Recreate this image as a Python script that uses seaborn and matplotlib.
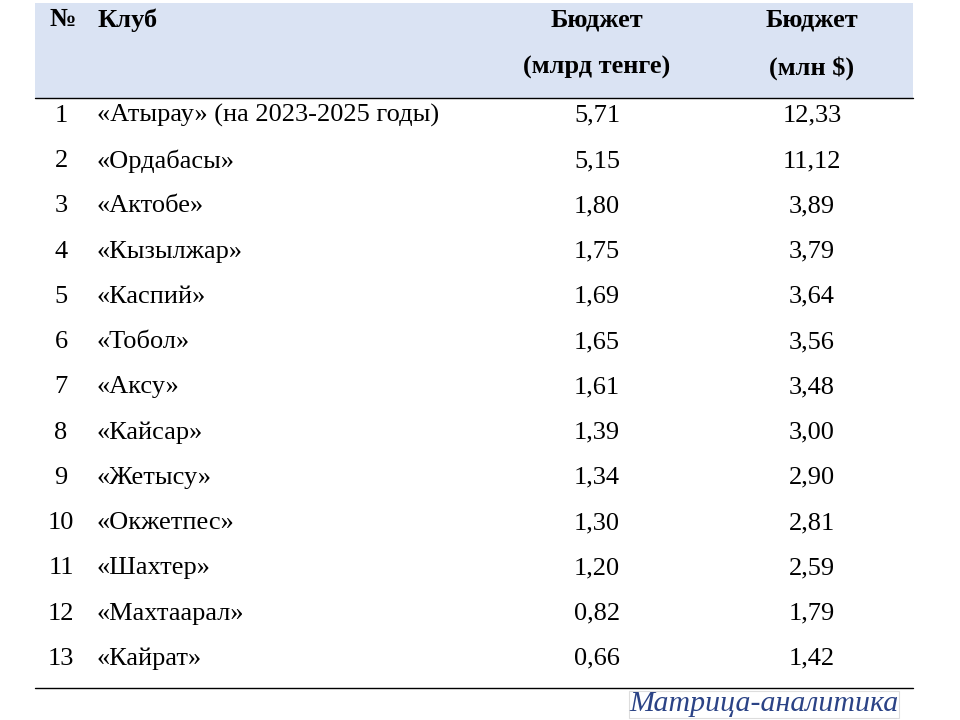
import matplotlib
matplotlib.use('Agg')
import matplotlib.pyplot as plt
import seaborn as sns
import pandas as pd

# Budgets of Kazakhstan Premier League clubs
ranks = list(range(1, 14))
clubs = ['«Атырау» (на 2023-2025 годы)', '«Ордабасы»', '«Актобе»', '«Кызылжар»',
         '«Каспий»', '«Тобол»', '«Аксу»', '«Кайсар»', '«Жетысу»', '«Окжетпес»',
         '«Шахтер»', '«Махтаарал»', '«Кайрат»']
budget_kzt = ['5,71', '5,15', '1,80', '1,75', '1,69', '1,65', '1,61', '1,39',
              '1,34', '1,30', '1,20', '0,82', '0,66']
budget_usd = ['12,33', '11,12', '3,89', '3,79', '3,64', '3,56', '3,48', '3,00',
              '2,90', '2,81', '2,59', '1,79', '1,42']
headers = ['№', 'Клуб', 'Бюджет', '(млрд тенге)', 'Бюджет', '(млн $)']
source = 'Матрица-аналитика'

df = pd.DataFrame({'rank': ranks, 'club': clubs, 'kzt': budget_kzt, 'usd': budget_usd})

sns.set_theme(style='white')
plt.rcParams['font.family'] = ['Liberation Serif', 'DejaVu Serif']
plt.rcParams['text.color'] = 'black'

fig = plt.figure(figsize=(9.6, 7.2), dpi=100)
ax = fig.add_axes([0, 0, 1, 1])
ax.set_xlim(0, 960)
ax.set_ylim(14.37, -1.54)
ax.axis('off')

fs = 19
# header band
ax.fill_between([35, 913], -1.475, 0.624, color='#DAE3F3', lw=0)
ax.plot([35, 913], [0.624, 0.624], color='black', lw=1)
ax.plot([35, 913], [13.66, 13.66], color='black', lw=1)

ax.text(50, -1.1, headers[0], fontsize=fs, fontweight='bold', va='center', ha='left')
ax.text(97, -1.1, headers[1], fontsize=fs, fontweight='bold', va='center', ha='left')
ax.text(597, -1.1, headers[2], fontsize=fs, fontweight='bold', va='center', ha='center')
ax.text(597, -0.04, headers[3], fontsize=fs, fontweight='bold', va='center', ha='center')
ax.text(812, -1.1, headers[4], fontsize=fs, fontweight='bold', va='center', ha='center')
ax.text(812, -0.04, headers[5], fontsize=fs, fontweight='bold', va='center', ha='center')

for _, r in df.iterrows():
    y = r['rank'] + 0.02
    ax.text(61, y, str(r['rank']), fontsize=fs, va='center', ha='center')
    ax.text(97, y, r['club'], fontsize=fs, va='center', ha='left')
    ax.text(597, y, r['kzt'], fontsize=fs, va='center', ha='center')
    ax.text(812, y, r['usd'], fontsize=fs, va='center', ha='center')

ax.text(764, 14.02, source, fontsize=21.5, style='italic', color='#2B4386',
        va='center', ha='center',
        bbox=dict(boxstyle='square,pad=0.02', fc='white', ec='#DDDDDD', lw=0.8))

fig.savefig('out.png', dpi=100)
